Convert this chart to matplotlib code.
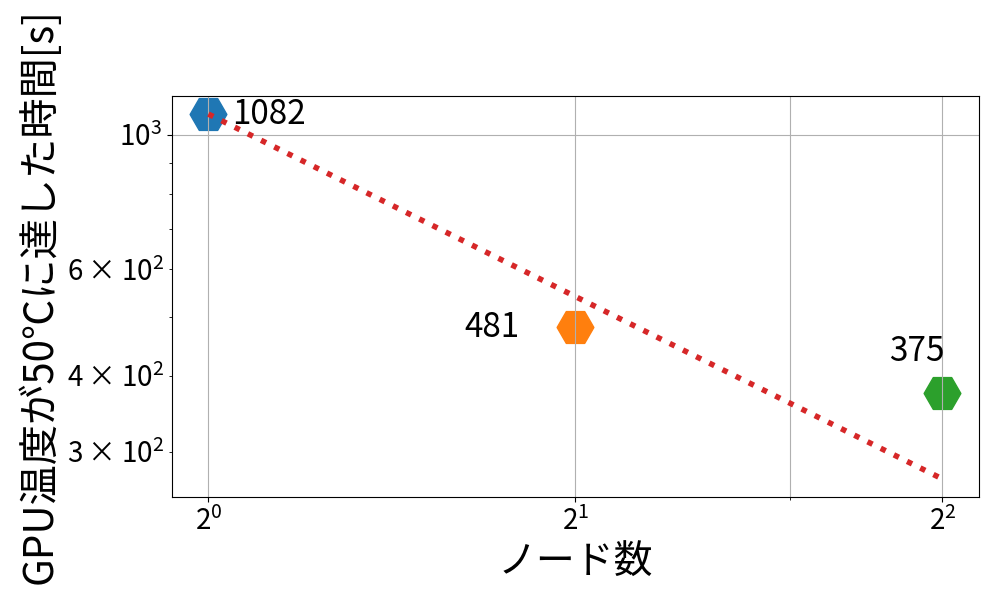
import matplotlib
matplotlib.use("Agg")
import matplotlib.pyplot as plt
from matplotlib.ticker import FixedLocator, NullFormatter

plt.rcParams['font.family'] = ['Noto Sans CJK JP', 'DejaVu Sans']

nodes = [1, 2, 4]
times = [1082, 481, 375]
labels = ["1082", "481", "375"]
ideal = [times[0] / n for n in nodes]
label_offsets = [(24, 0), (-56, 0), (2, 41)]
label_ha = ["left", "right", "right"]

fig = plt.figure(figsize=(9.98, 5.99), dpi=100)
ax = fig.add_axes([0.172, 0.170, 0.809, 0.670])

for n, t in zip(nodes, times):
    ax.scatter([n], [t], s=700, marker='H')
ax.plot([nodes[0], nodes[-1]], [ideal[0], ideal[-1]], linestyle=':', color='tab:red', linewidth=4)

for n, t, lab, off, ha in zip(nodes, times, labels, label_offsets, label_ha):
    ax.annotate(lab, xy=(n, t), xytext=off, textcoords='offset pixels',
                ha=ha, va='center', fontsize=24)

ax.set_xscale('log', base=2)
ax.set_yscale('log')
ax.xaxis.set_minor_locator(FixedLocator([3]))
ax.xaxis.set_minor_formatter(NullFormatter())
ax.grid(axis='x', which='both')
ax.grid(axis='y', which='major')

ax.tick_params(axis='both', which='both', labelsize=20)
ax.set_xlabel('ノード数', fontsize=28)
ax.set_ylabel('GPU温度が50℃に達した時間[s]', fontsize=29)
ax.yaxis.set_label_coords(-0.137, 0.5)

fig.savefig('out.png', dpi=100)
